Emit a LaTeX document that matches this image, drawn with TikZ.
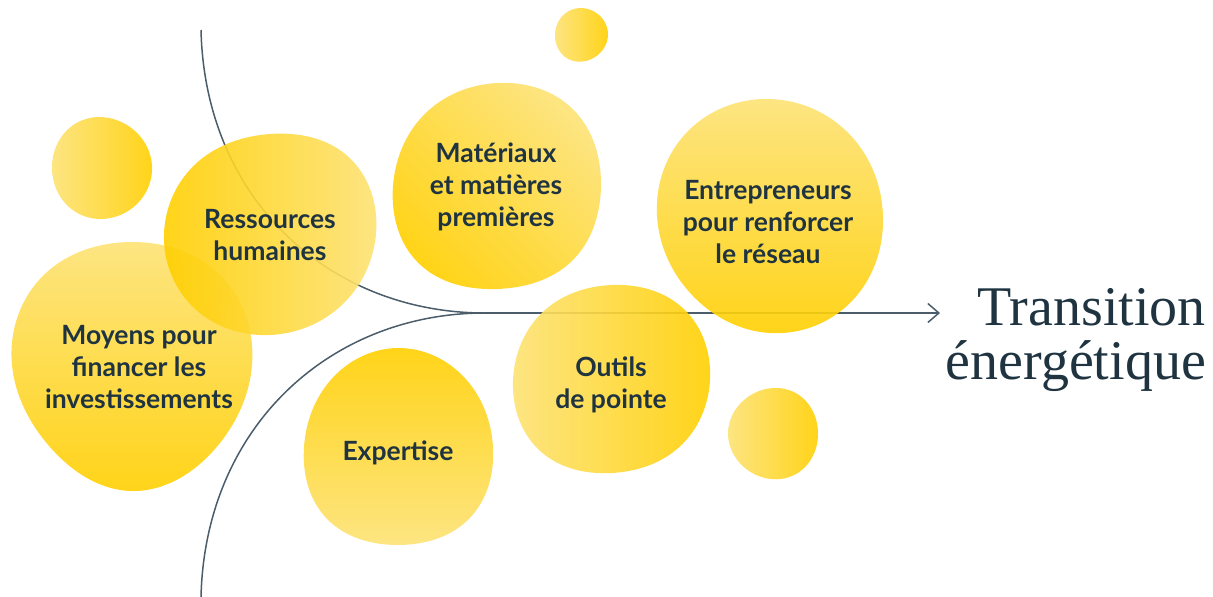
\documentclass[tikz,border=0pt]{standalone}
\usepackage{fontspec}
\setmainfont{Lato}
\newfontfamily\headfont{Liberation Serif}
\usetikzlibrary{arrows.meta,positioning,hobby}

\definecolor{yDark}{HTML}{FFCF00}
\definecolor{yLight}{HTML}{FDE274}
\definecolor{inkText}{HTML}{1F3440}
\definecolor{inkLine}{HTML}{4B5D6A}

\begin{document}
\begin{tikzpicture}
    [x=1pt, y=-1pt,
    blob/.style={opacity=0.9},
    label/.style={text=inkText, align=center, font=\bfseries\fontsize{26.5}{32}\selectfont},
    link/.style={draw=inkLine, line width=1.5pt},
    goal/.style={text=inkText, align=right, font=\headfont\fontsize{56}{54}\selectfont}]

    \useasboundingbox (0,0) rectangle (1213,597);

    % the two strands and the arrow
    \coordinate (top) at (201,30);
    \coordinate (bot) at (201,597);
    \coordinate (hub) at (485,313);
    \coordinate (tip) at (940,313);
    \node [goal, anchor=east, inner sep=0pt] (target) at (1206,340) {Transition\\énergétique};

    \draw [link] (top) .. controls +(4,170) and +(-155,0) .. (hub);
    \draw [link] (bot) .. controls +(4,-170) and +(-155,0) .. (hub);
    \draw [link, -{Straight Barb[length=11pt,width=19pt,line width=1.5pt]}] (hub) -- (tip);

    % blobs
    \shade [blob, left color=yLight, right color=yDark, shift={(102,166)}]
        plot [closed hobby] coordinates {(0:50) (60:52) (120:53) (180:50) (240:50) (300:48)};
    \shade [blob, left color=yLight, right color=yDark, shift={(581,34)}]
        plot [closed hobby] coordinates {(0:27) (60:27) (120:28) (180:26) (240:26) (300:26)};
    \shade [blob, left color=yLight, right color=yDark, shift={(773,433)}]
        plot [closed hobby] coordinates {(0:45) (60:47) (120:45) (180:45) (240:44) (300:46)};
    \shade [blob, top color=yLight, bottom color=yDark, shift={(132,365)}]
        plot [closed hobby] coordinates {(0:120) (45:118) (90:126) (135:116) (180:120) (225:126) (270:123) (315:126)};
    \shade [blob, left color=yDark, right color=yLight, shift={(270,234)}]
        plot [closed hobby] coordinates {(0:106) (45:101) (90:101) (135:106) (180:106) (225:102) (270:100) (315:110)};
    \shade [blob, top color=yLight, bottom color=yDark, shading angle=-45, shift={(497,186)}]
        plot [closed hobby] coordinates {(0:104) (45:106) (90:103) (135:110) (180:104) (225:102) (270:103) (315:108)};
    \shade [blob, top color=yLight, bottom color=yDark, shift={(770,216)}]
        plot [closed hobby] coordinates {(0:113) (45:118) (90:117) (135:111) (180:113) (225:118) (270:117) (315:114)};
    \shade [blob, left color=yLight, right color=yDark, shift={(612,380)}]
        plot [closed hobby] coordinates {(0:98) (45:95) (90:93) (135:101) (180:99) (225:97) (270:95) (315:101)};
    \shade [blob, top color=yDark, bottom color=yLight, shift={(398,447)}]
        plot [closed hobby] coordinates {(0:95) (45:101) (90:98) (135:101) (180:94) (225:95) (270:99) (315:96)};

    % labels
    \node [label] (money) at (139,367) {Moyens pour\\financer les\\investissements};
    \node [label] (people) at (270,235) {Ressources\\humaines};
    \node [label] (material) at (496,187) {Matériaux\\et matières\\premières};
    \node [label] (makers) at (768,222) {Entrepreneurs\\pour renforcer\\le réseau};
    \node [label] (tools) at (611,385) {Outils\\de pointe};
    \node [label] (skill) at (398,453) {Expertise};
\end{tikzpicture}
\end{document}
